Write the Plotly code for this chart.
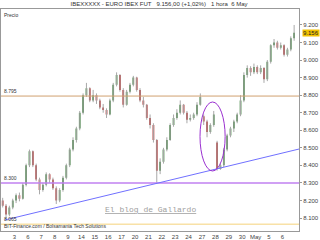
import plotly.graph_objects as go

# ---- data (index points, hourly-ish candles, 4 per session) ----
day_labels = ["", "3", "6", "7", "8", "9", "14", "15", "16", "17", "20", "21",
              "22", "23", "24", "27", "28", "29", "30", "May", "5", "6"]

opens = [8200, 8170, 8120, 8160, 8200, 8230, 8210, 8290, 8400, 8480, 8400, 8320,
         8260, 8290, 8350, 8320, 8270, 8200, 8260, 8330, 8400, 8490, 8545, 8610,
         8700, 8800, 8840, 8770, 8800, 8770, 8730, 8715, 8690, 8770, 8860, 8915,
         8830, 8745, 8820, 8860, 8900, 8830, 8770, 8745, 8670, 8630, 8545, 8370,
         8420, 8490, 8545, 8630, 8670, 8700, 8745, 8700, 8660, 8670, 8690, 8745,
         8680, 8650, 8590, 8630, 8530, 8380, 8400, 8490, 8570, 8610, 8650, 8690,
         8770, 8915, 8955, 8930, 8960, 8930, 8955, 8890, 8990, 9085, 9100, 9070,
         9085, 9030, 9060, 9125]
highs = [8215, 8180, 8170, 8210, 8240, 8245, 8300, 8410, 8490, 8485, 8410, 8330,
         8300, 8360, 8355, 8330, 8280, 8270, 8340, 8410, 8500, 8560, 8620, 8710,
         8810, 8870, 8845, 8830, 8810, 8780, 8750, 8725, 8780, 8870, 8930, 8920,
         8840, 8830, 8870, 8910, 8905, 8840, 8790, 8750, 8690, 8640, 8550, 8440,
         8500, 8560, 8640, 8690, 8720, 8770, 8750, 8710, 8690, 8700, 8760, 8810,
         8690, 8660, 8640, 8710, 8540, 8410, 8500, 8580, 8620, 8660, 8700, 8800,
         8930, 8970, 8965, 8980, 8970, 8970, 8960, 9000, 9090, 9120, 9110, 9100,
         9090, 9070, 9135, 9200]
lows = [8160, 8095, 8110, 8150, 8185, 8195, 8205, 8280, 8390, 8390, 8310, 8235,
        8250, 8280, 8300, 8260, 8180, 8190, 8250, 8320, 8390, 8480, 8530, 8600,
        8690, 8790, 8760, 8760, 8750, 8720, 8700, 8670, 8685, 8760, 8850, 8820,
        8730, 8740, 8810, 8850, 8820, 8760, 8730, 8660, 8610, 8530, 8300, 8350,
        8410, 8480, 8540, 8620, 8660, 8690, 8690, 8640, 8650, 8660, 8680, 8740,
        8630, 8560, 8580, 8620, 8370, 8375, 8390, 8480, 8560, 8590, 8640, 8680,
        8760, 8900, 8910, 8920, 8920, 8920, 8870, 8880, 8980, 9070, 9060, 9060,
        9020, 9020, 9050, 9110]
closes = [8170, 8120, 8160, 8200, 8230, 8210, 8290, 8400, 8480, 8400, 8320, 8260,
          8290, 8350, 8320, 8270, 8200, 8260, 8330, 8400, 8490, 8545, 8610, 8700,
          8800, 8840, 8770, 8800, 8770, 8730, 8715, 8690, 8770, 8860, 8915, 8830,
          8745, 8820, 8860, 8900, 8830, 8770, 8745, 8670, 8630, 8545, 8370, 8420,
          8490, 8545, 8630, 8670, 8700, 8745, 8700, 8660, 8670, 8690, 8745, 8790,
          8650, 8590, 8630, 8690, 8380, 8400, 8490, 8570, 8610, 8650, 8690, 8770,
          8915, 8955, 8930, 8960, 8930, 8955, 8890, 8990, 9085, 9100, 9070, 9085,
          9030, 9060, 9125, 9156]

bars_per_day = 4
resistance = 8795
support = 8300
lower_level = 8065
trend_start = 8089
trend_end = 8493
ellipse_low, ellipse_high = 8368, 8761
last_price = 9156
y_ticks = [8100, 8200, 8300, 8400, 8500, 8600, 8700, 8800, 8900, 9000, 9100, 9200]

x = list(range(len(closes)))
x_max = 88.45
tickvals = [d * bars_per_day - 0.5 for d in range(1, len(day_labels))]
ticktext = day_labels[1:]

fig = go.Figure()
fig.add_trace(go.Ohlc(
    x=x, open=opens, high=highs, low=lows, close=closes,
    increasing_line_color="#a8a8a8", decreasing_line_color="#a8a8a8",
    tickwidth=0, line_width=1, showlegend=False, hoverinfo="skip"))
fig.add_trace(go.Candlestick(
    x=x, open=opens, high=highs, low=lows, close=closes,
    increasing=dict(fillcolor="#2f7a2f", line=dict(color="#2f7a2f", width=0)),
    decreasing=dict(fillcolor="#b01818", line=dict(color="#b01818", width=0)),
    whiskerwidth=0, showlegend=False))

shapes = [
    dict(type="line", xref="paper", x0=0, x1=1, yref="y", y0=resistance, y1=resistance,
         line=dict(color="#d0a070", width=1)),
    dict(type="line", xref="paper", x0=0, x1=1, yref="y", y0=support, y1=support,
         line=dict(color="#c080f0", width=1.5)),
    dict(type="line", xref="paper", x0=0, x1=1, yref="y", y0=lower_level, y1=lower_level,
         line=dict(color="#f5d27a", width=1)),
    dict(type="line", xref="x", x0=0.7, x1=x_max, yref="y", y0=trend_start, y1=trend_end,
         line=dict(color="#7070ff", width=1)),
    dict(type="circle", xref="x", x0=58.9, x1=66.4, yref="y", y0=ellipse_low, y1=ellipse_high,
         line=dict(color="#9a30d0", width=1)),
]

small = dict(family="Liberation Sans, Arial", size=6, color="#444")
annotations = [
    dict(xref="paper", yref="y", x=0.005, y=resistance, text="8.795", showarrow=False,
         xanchor="left", yanchor="bottom", font=dict(family="Liberation Sans", size=5, color="#333")),
    dict(xref="paper", yref="y", x=0.005, y=support, text="8.300", showarrow=False,
         xanchor="left", yanchor="bottom", font=dict(family="Liberation Sans", size=5, color="#333")),
    dict(xref="paper", yref="y", x=0.005, y=lower_level, text="8.065", showarrow=False,
         xanchor="left", yanchor="bottom", font=dict(family="Liberation Sans", size=5, color="#333")),
    dict(xref="paper", yref="y", x=1, y=last_price, text="9.156", showarrow=False,
         xanchor="left", yanchor="middle", xshift=3, bgcolor="#f2c200", borderpad=0,
         font=dict(family="Liberation Sans", size=6, color="#222")),
    dict(xref="paper", yref="paper", x=0.005, y=0.995, text="Precio", showarrow=False,
         xanchor="left", yanchor="top", font=dict(family="Liberation Sans", size=5, color="#333")),
    dict(xref="paper", yref="paper", x=0.005, y=0.0, text="BIT-Finance.com / Bolsamania Tech Solutions",
         showarrow=False, xanchor="left", yanchor="bottom",
         font=dict(family="Liberation Sans", size=5, color="#333")),
    dict(xref="paper", yref="paper", x=0.5, y=0.095, text="<u>El blog de Gallardo</u>",
         showarrow=False, xanchor="center", yanchor="middle",
         font=dict(family="Liberation Mono, DejaVu Sans Mono", size=8, color="#a0a0a0")),
]

fig.update_layout(
    width=320, height=240,
    margin=dict(l=1, r=21, t=9, b=9),
    paper_bgcolor="white", plot_bgcolor="white",
    separators=",.",
    title=dict(text="IBEXXXXX - EURO IBEX FUT   9.156,00 (+1,02%)   1 hora  6 May",
               x=0.497, xref="container", y=0.983, yref="container",
               xanchor="center", yanchor="middle",
               font=dict(family="Liberation Sans", size=6, color="#333")),
    xaxis=dict(range=[-0.5, x_max], tickvals=tickvals, ticktext=ticktext,
               showgrid=False, zeroline=False, showline=True, linecolor="#999",
               linewidth=1, mirror=True, ticks="", tickfont=small,
               rangeslider=dict(visible=False)),
    yaxis=dict(side="right", range=[8026, 9291], tickvals=y_ticks, tickformat=",.0f",
               showgrid=False, zeroline=False, showline=True, linecolor="#999",
               linewidth=1, mirror=True, ticks="outside", ticklen=2, tickcolor="#999",
               tickfont=small),
    shapes=shapes, annotations=annotations,
    showlegend=False,
)

fig.write_html("out.html")
